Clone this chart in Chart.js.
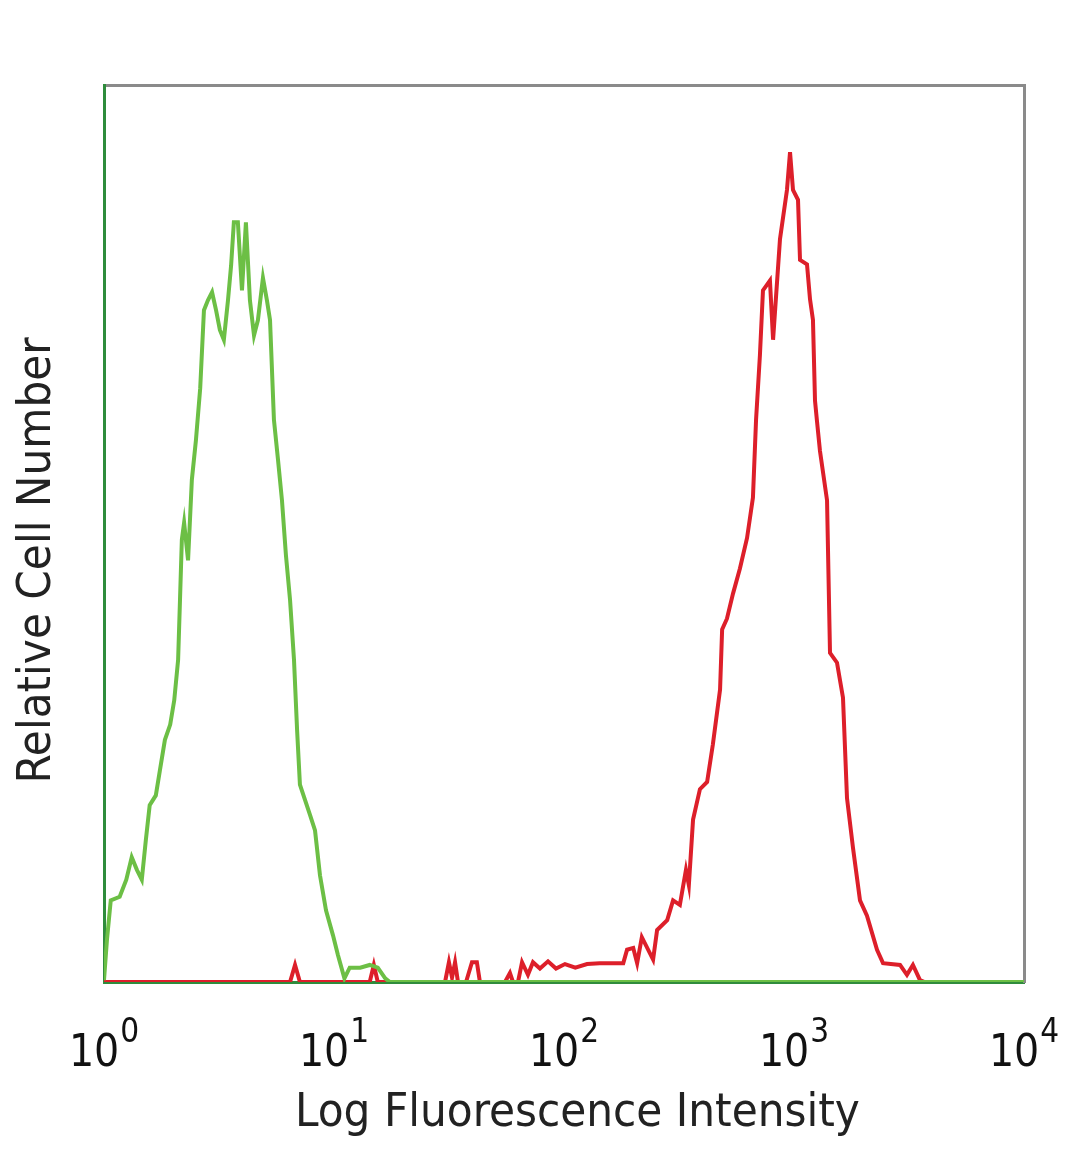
<!DOCTYPE html>
<html>
<head>
<meta charset="utf-8">
<script src="https://cdn.jsdelivr.net/npm/chart.js@4"></script>
<style>
  body { margin: 0; background: #fff; }
  #wrap { width: 1080px; height: 1169px; }
</style>
</head>
<body>
<div id="wrap"><canvas id="myChart"></canvas></div>
<script>
// histogram: intensity (log axis) vs relative count (0-100)
const greenIntensity = [1.00, 1.03, 1.07, 1.17, 1.25, 1.32, 1.39, 1.46, 1.52, 1.58, 1.68, 1.75, 1.84, 1.94, 2.02, 2.10, 2.14, 2.18, 2.23, 2.32, 2.41, 2.51, 2.62, 2.72, 2.83, 2.95, 3.07, 3.19, 3.32, 3.46, 3.57, 3.67, 3.82, 3.98, 4.14, 4.31, 4.49, 4.67, 4.91, 5.11, 5.27, 5.48, 5.71, 5.94, 6.18, 6.44, 6.70, 6.91, 7.11, 7.48, 7.87, 8.27, 8.69, 9.23, 9.90, 10.4, 11.1, 11.7, 13.0, 14.3, 15.5, 16.7, 17.5, 10000];
const greenCount = [0.2, 4.7, 9.1, 9.5, 11.4, 13.9, 12.5, 11.4, 15.8, 19.7, 20.8, 23.6, 27.0, 28.7, 31.4, 35.9, 42.6, 49.3, 51.2, 47.0, 56.0, 60.4, 66.2, 74.9, 76.0, 76.9, 74.9, 72.7, 71.6, 76.0, 79.9, 84.7, 84.7, 77.1, 84.7, 76.0, 72.1, 73.8, 78.5, 76.0, 73.8, 62.7, 58.2, 53.7, 47.6, 42.6, 35.9, 28.1, 22.0, 20.3, 18.6, 16.9, 11.9, 8.0, 5.2, 3.0, 0.4, 1.6, 1.6, 1.9, 1.6, 0.4, 0, 0];

const redIntensity = [1, 6.44, 6.77, 7.11, 14.3, 14.9, 15.5, 30.4, 31.6, 32.6, 33.6, 34.6, 37.5, 39.8, 41.8, 43.1, 55.4, 58.2, 60.0, 63.1, 65.7, 69.7, 73.3, 78.6, 85.2, 92.3, 101, 112, 126, 143, 181, 188, 200, 208, 218, 244, 254, 281, 298, 319, 339, 349, 364, 390, 419, 444, 477, 487, 511, 543, 582, 625, 663, 684, 711, 733, 786, 811, 869, 932, 961, 990, 1041, 1062, 1139, 1174, 1209, 1234, 1259, 1297, 1392, 1434, 1538, 1633, 1700, 1806, 1936, 2076, 2296, 2438, 2891, 3098, 3289, 3530, 3700, 10000];
const redCount = [0, 0, 1.9, 0, 0, 1.9, 0, 0, 2.2, 0.5, 2.2, 0, 0, 2.2, 2.2, 0, 0, 1.0, 0, 0, 2.2, 0.8, 2.2, 1.5, 2.3, 1.5, 2.0, 1.6, 2.0, 2.1, 2.1, 3.6, 3.8, 2.1, 5.0, 2.5, 5.8, 6.9, 9.1, 8.6, 12.5, 10.8, 18.1, 21.5, 22.3, 26.5, 32.6, 39.3, 40.5, 43.3, 46.1, 49.5, 54.0, 62.7, 69.9, 77.1, 78.2, 71.6, 82.8, 88.3, 92.5, 88.3, 87.2, 80.5, 80.0, 76.1, 73.8, 64.8, 62.5, 59.2, 53.7, 36.7, 35.6, 31.7, 20.5, 14.9, 9.1, 7.4, 3.6, 2.1, 1.9, 0.8, 1.9, 0.2, 0, 0];

const tickValues = [1, 10, 100, 1000, 10000];
const tickBase = '10';
const tickExponents = ['0', '1', '2', '3', '4'];

const toPoints = (xs, ys) => xs.map((x, i) => ({ x: x, y: ys[i] }));

const fontFamily = '"DejaVu Sans Condensed", "DejaVu Sans", sans-serif';
const tickSize = 44;
const expSize = 33;

// draws the exponent next to each "10" tick label
const exponentPlugin = {
  id: 'exponents',
  afterDraw(chart) {
    const s = chart.scales.x;
    const ctx = chart.ctx;
    ctx.save();
    ctx.font = tickSize + 'px ' + fontFamily;
    const full = ctx.measureText(tickBase + '\u2002').width;
    const base = ctx.measureText(tickBase).width;
    const mid = s.top + s.options.ticks.padding + tickSize * 1.2 / 2;
    ctx.font = expSize + 'px ' + fontFamily;
    ctx.fillStyle = '#111';
    ctx.textAlign = 'left';
    ctx.textBaseline = 'middle';
    tickValues.forEach((v, i) => {
      const px = s.getPixelForValue(v);
      ctx.fillText(tickExponents[i], px - full / 2 + base + 1, mid - 13);
    });
    ctx.restore();
  }
};

const data = {
  datasets: [{
    label: 'isotype',
    data: toPoints(greenIntensity, greenCount),
    borderColor: '#6cbf45',
    borderWidth: 4,
    pointRadius: 0,
    tension: 0,
    order: 0
  }, {
    label: 'stained',
    data: toPoints(redIntensity, redCount),
    borderColor: '#dd1f2a',
    borderWidth: 4,
    pointRadius: 0,
    tension: 0,
    order: 1
  }]
};

const config = {
  type: 'line',
  data: data,
  plugins: [exponentPlugin],
  options: {
    responsive: true,
    maintainAspectRatio: false,
    animation: false,
    layout: { padding: { top: 85, right: 56, left: 0, bottom: 0 } },
    plugins: { legend: { display: false }, tooltip: { enabled: false } },
    scales: {
      x: {
        type: 'logarithmic',
        min: 1,
        max: 10000,
        afterBuildTicks: (s) => { s.ticks = tickValues.map(v => ({ value: v })); },
        afterFit: (s) => {
          s.height = 187;
          s.paddingLeft = 0;
          s.paddingRight = 0;
        },
        ticks: {
          color: '#111',
          font: { family: fontFamily, size: tickSize },
          padding: 38,
          maxRotation: 0,
          autoSkip: false,
          callback: () => tickBase + '\u2002'
        },
        grid: { display: false },
        border: { color: '#2f8c3c', width: 3 },
        title: {
          display: true,
          text: '\u00a0\u00a0Log Fluorescence Intensity',
          color: '#222',
          font: { family: fontFamily, size: 47 },
          padding: { top: 0, bottom: 27 }
        }
      },
      xTop: {
        type: 'linear',
        position: 'top',
        min: 0,
        max: 1,
        afterFit: (s) => { s.height = 0; },
        ticks: { display: false },
        grid: { display: false },
        border: { color: '#8a8a8a', width: 3 }
      },
      y: {
        min: 0,
        max: 100,
        afterFit: (s) => { s.width = 104; },
        ticks: { display: false },
        grid: { display: false },
        border: { color: '#2f8c3c', width: 3 },
        title: {
          display: true,
          text: 'Relative Cell Number\u00a0\u00a0\u00a0\u00a0',
          color: '#222',
          font: { family: fontFamily, size: 47 },
          padding: { top: 10, bottom: 0 }
        }
      },
      yRight: {
        position: 'right',
        min: 0,
        max: 1,
        afterFit: (s) => { s.width = 0; },
        ticks: { display: false },
        grid: { display: false },
        border: { color: '#8a8a8a', width: 3 }
      }
    }
  }
};

const myChart = new Chart(document.getElementById('myChart'), config);
</script>
</body>
</html>
